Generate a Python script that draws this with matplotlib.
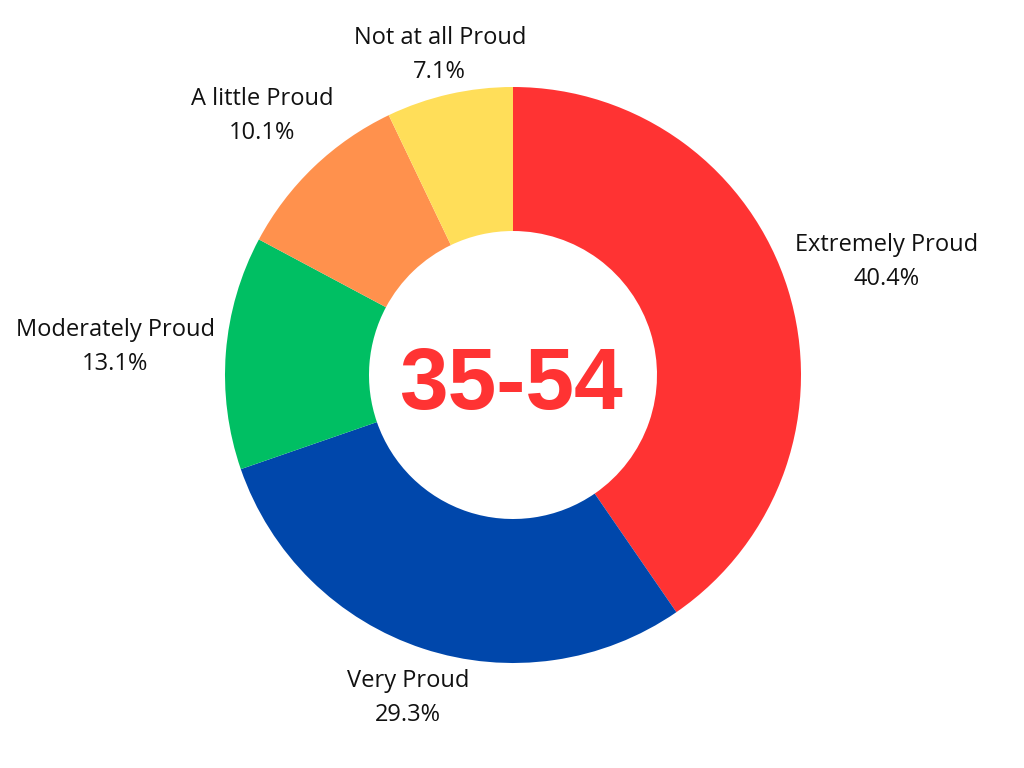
import numpy as np
import matplotlib
matplotlib.use("Agg")
from matplotlib import pyplot as plt

labels = ["Extremely Proud", "Very Proud", "Moderately Proud", "A little Proud", "Not at all Proud"]
shares = [40.4, 29.3, 13.1, 10.1, 7.1]
colors = ["#FF3333", "#0047AB", "#00BF63", "#FF914D", "#FFDE59"]
center_text = "35-54"

# distance of each label from centre, in units of the outer radius
label_r = [1.36, 1.17, 1.385, 1.26, 1.15]

fig = plt.figure(figsize=(10.24, 7.68), dpi=100)
ax = fig.add_axes([0, 0, 1, 1])

cx, cy, R = 513, 393, 288
wedges, _ = ax.pie(shares, colors=colors, startangle=90, counterclock=False,
                   center=(cx, cy), radius=R, frame=True,
                   wedgeprops=dict(width=R * 0.5, linewidth=0))
ax.set_xlim(0, 1024)
ax.set_ylim(0, 768)
ax.set_aspect("equal")
ax.axis("off")

for w, lab, val, lr in zip(wedges, labels, shares, label_r):
    ang = np.deg2rad((w.theta1 + w.theta2) / 2)
    x = cx + R * lr * np.cos(ang)
    y = cy + R * lr * np.sin(ang) - 3
    ax.text(x, y, f"{lab}\n{val:.1f}%", ha="center", va="center",
            fontsize=17, family="Open Sans", color="#111111", linespacing=1.55)

ax.text(cx - 2, cy - 12, center_text, ha="center", va="center", fontsize=63,
        fontweight="bold", family="Liberation Sans", color="#FF3333")

fig.savefig("out.png", dpi=100)
